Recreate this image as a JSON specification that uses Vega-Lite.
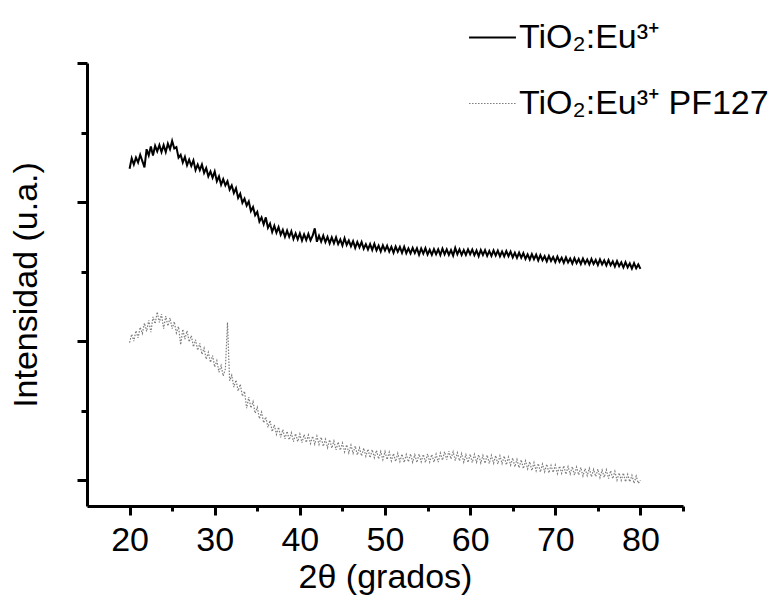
{
"$schema": "https://vega.github.io/schema/vega-lite/v6.json",
"width": 596, "height": 443,
"autosize": {"type": "none"},
"padding": {"left": 87, "top": 63, "right": 101, "bottom": 90},
"background": "white",
"config": {"view": {"stroke": null}, "font": "Liberation Sans"},
"data": {"values": [
{"t":20,"a":2.24,"b":0.99},{"t":20.25,"a":2.315,"b":1.05},{"t":20.5,"a":2.27,"b":1.0},{"t":20.75,"a":2.32,"b":1.075},
{"t":21,"a":2.285,"b":1.025},{"t":21.25,"a":2.34,"b":1.1},{"t":21.5,"a":2.295,"b":1.055},{"t":21.75,"a":2.25,"b":1.13},
{"t":22,"a":2.38,"b":1.07},{"t":22.25,"a":2.335,"b":1.15},{"t":22.5,"a":2.4,"b":1.065},{"t":22.75,"a":2.335,"b":1.175},
{"t":23,"a":2.405,"b":1.125},{"t":23.25,"a":2.365,"b":1.21},{"t":23.5,"a":2.41,"b":1.135},{"t":23.75,"a":2.36,"b":1.195},
{"t":24,"a":2.41,"b":1.09},{"t":24.25,"a":2.36,"b":1.18},{"t":24.5,"a":2.42,"b":1.11},{"t":24.75,"a":2.38,"b":1.168},
{"t":25,"a":2.44,"b":1.09},{"t":25.25,"a":2.385,"b":1.14},{"t":25.5,"a":2.395,"b":1.06},{"t":25.75,"a":2.32,"b":1.105},
{"t":26,"a":2.34,"b":0.975},{"t":26.25,"a":2.285,"b":1.085},{"t":26.5,"a":2.325,"b":1.015},{"t":26.75,"a":2.265,"b":1.075},
{"t":27,"a":2.305,"b":0.995},{"t":27.25,"a":2.26,"b":1.04},{"t":27.5,"a":2.3,"b":0.96},{"t":27.75,"a":2.23,"b":1.01},
{"t":28,"a":2.27,"b":0.935},{"t":28.25,"a":2.23,"b":0.985},{"t":28.5,"a":2.27,"b":0.905},{"t":28.75,"a":2.21,"b":0.95},
{"t":29,"a":2.245,"b":0.87},{"t":29.25,"a":2.185,"b":0.92},{"t":29.5,"a":2.22,"b":0.848},{"t":29.75,"a":2.175,"b":0.897},
{"t":30,"a":2.22,"b":0.815},{"t":30.25,"a":2.15,"b":0.86},{"t":30.5,"a":2.185,"b":0.777},{"t":30.75,"a":2.125,"b":0.825},
{"t":31,"a":2.165,"b":0.75},{"t":31.25,"a":2.12,"b":0.8},{"t":31.5,"a":2.15,"b":1.135},{"t":31.75,"a":2.09,"b":0.715},
{"t":32,"a":2.12,"b":0.755},{"t":32.25,"a":2.065,"b":0.67},{"t":32.5,"a":2.1,"b":0.72},{"t":32.75,"a":2.03,"b":0.642},
{"t":33,"a":2.06,"b":0.69},{"t":33.25,"a":1.995,"b":0.605},{"t":33.5,"a":2.025,"b":0.64},{"t":33.75,"a":1.975,"b":0.518},
{"t":34,"a":2.005,"b":0.598},{"t":34.25,"a":1.935,"b":0.52},{"t":34.5,"a":1.965,"b":0.565},{"t":34.75,"a":1.905,"b":0.482},
{"t":35,"a":1.93,"b":0.525},{"t":35.25,"a":1.86,"b":0.443},{"t":35.5,"a":1.89,"b":0.49},{"t":35.75,"a":1.84,"b":0.413},
{"t":36,"a":1.89,"b":0.455},{"t":36.25,"a":1.815,"b":0.38},{"t":36.5,"a":1.845,"b":0.43},{"t":36.75,"a":1.785,"b":0.35},
{"t":37,"a":1.83,"b":0.398},{"t":37.25,"a":1.78,"b":0.33},{"t":37.5,"a":1.82,"b":0.382},{"t":37.75,"a":1.765,"b":0.308},
{"t":38,"a":1.8,"b":0.365},{"t":38.25,"a":1.75,"b":0.298},{"t":38.5,"a":1.795,"b":0.352},{"t":38.75,"a":1.75,"b":0.291},
{"t":39,"a":1.79,"b":0.341},{"t":39.25,"a":1.735,"b":0.278},{"t":39.5,"a":1.775,"b":0.335},{"t":39.75,"a":1.732,"b":0.278},
{"t":40,"a":1.775,"b":0.332},{"t":40.25,"a":1.724,"b":0.27},{"t":40.5,"a":1.768,"b":0.329},{"t":40.75,"a":1.727,"b":0.272},
{"t":41,"a":1.771,"b":0.325},{"t":41.25,"a":1.725,"b":0.264},{"t":41.5,"a":1.758,"b":0.317},{"t":41.75,"a":1.811,"b":0.26},
{"t":42,"a":1.715,"b":0.318},{"t":42.25,"a":1.758,"b":0.258},{"t":42.5,"a":1.716,"b":0.309},{"t":42.75,"a":1.759,"b":0.244},
{"t":43,"a":1.712,"b":0.295},{"t":43.25,"a":1.75,"b":0.235},{"t":43.5,"a":1.703,"b":0.291},{"t":43.75,"a":1.746,"b":0.231},
{"t":44,"a":1.704,"b":0.282},{"t":44.25,"a":1.746,"b":0.218},{"t":44.5,"a":1.698,"b":0.275},{"t":44.75,"a":1.731,"b":0.216},
{"t":45,"a":1.688,"b":0.268},{"t":45.25,"a":1.74,"b":0.204},{"t":45.5,"a":1.692,"b":0.255},{"t":45.75,"a":1.724,"b":0.197},
{"t":46,"a":1.682,"b":0.253},{"t":46.25,"a":1.719,"b":0.194},{"t":46.5,"a":1.671,"b":0.246},{"t":46.75,"a":1.713,"b":0.182},
{"t":47,"a":1.675,"b":0.234},{"t":47.25,"a":1.713,"b":0.175},{"t":47.5,"a":1.665,"b":0.231},{"t":47.75,"a":1.697,"b":0.173},
{"t":48,"a":1.659,"b":0.224},{"t":48.25,"a":1.698,"b":0.162},{"t":48.5,"a":1.656,"b":0.22},{"t":48.75,"a":1.7,"b":0.162},
{"t":49,"a":1.653,"b":0.215},{"t":49.25,"a":1.687,"b":0.153},{"t":49.5,"a":1.645,"b":0.206},{"t":49.75,"a":1.689,"b":0.148},
{"t":50,"a":1.652,"b":0.206},{"t":50.25,"a":1.686,"b":0.149},{"t":50.5,"a":1.644,"b":0.202},{"t":50.75,"a":1.678,"b":0.139},
{"t":51,"a":1.636,"b":0.192},{"t":51.25,"a":1.68,"b":0.135},{"t":51.5,"a":1.643,"b":0.193},{"t":51.75,"a":1.677,"b":0.135},
{"t":52,"a":1.635,"b":0.188},{"t":52.25,"a":1.679,"b":0.128},{"t":52.5,"a":1.633,"b":0.185},{"t":52.75,"a":1.667,"b":0.133},
{"t":53,"a":1.631,"b":0.19},{"t":53.25,"a":1.67,"b":0.13},{"t":53.5,"a":1.634,"b":0.183},{"t":53.75,"a":1.668,"b":0.128},
{"t":54,"a":1.622,"b":0.188},{"t":54.25,"a":1.666,"b":0.133},{"t":54.5,"a":1.63,"b":0.186},{"t":54.75,"a":1.669,"b":0.128},
{"t":55,"a":1.623,"b":0.19},{"t":55.25,"a":1.657,"b":0.131},{"t":55.5,"a":1.621,"b":0.185},{"t":55.75,"a":1.661,"b":0.13},
{"t":56,"a":1.625,"b":0.188},{"t":56.25,"a":1.66,"b":0.13},{"t":56.5,"a":1.62,"b":0.195},{"t":56.75,"a":1.665,"b":0.145},
{"t":57,"a":1.625,"b":0.205},{"t":57.25,"a":1.66,"b":0.148},{"t":57.5,"a":1.62,"b":0.21},{"t":57.75,"a":1.655,"b":0.153},
{"t":58,"a":1.615,"b":0.205},{"t":58.25,"a":1.67,"b":0.142},{"t":58.5,"a":1.625,"b":0.198},{"t":58.75,"a":1.66,"b":0.14},
{"t":59,"a":1.62,"b":0.192},{"t":59.25,"a":1.655,"b":0.13},{"t":59.5,"a":1.62,"b":0.184},{"t":59.75,"a":1.66,"b":0.128},
{"t":60,"a":1.625,"b":0.188},{"t":60.25,"a":1.659,"b":0.127},{"t":60.5,"a":1.618,"b":0.186},{"t":60.75,"a":1.652,"b":0.13},
{"t":61,"a":1.611,"b":0.184},{"t":61.25,"a":1.656,"b":0.124},{"t":61.5,"a":1.62,"b":0.178},{"t":61.75,"a":1.654,"b":0.122},
{"t":62,"a":1.614,"b":0.181},{"t":62.25,"a":1.648,"b":0.12},{"t":62.5,"a":1.613,"b":0.179},{"t":62.75,"a":1.652,"b":0.123},
{"t":63,"a":1.616,"b":0.177},{"t":63.25,"a":1.651,"b":0.117},{"t":63.5,"a":1.61,"b":0.176},{"t":63.75,"a":1.645,"b":0.12},
{"t":64,"a":1.61,"b":0.174},{"t":64.25,"a":1.648,"b":0.111},{"t":64.5,"a":1.611,"b":0.167},{"t":64.75,"a":1.644,"b":0.109},
{"t":65,"a":1.602,"b":0.16},{"t":65.25,"a":1.636,"b":0.097},{"t":65.5,"a":1.599,"b":0.149},{"t":65.75,"a":1.637,"b":0.09},
{"t":66,"a":1.6,"b":0.147},{"t":66.25,"a":1.633,"b":0.084},{"t":66.5,"a":1.591,"b":0.14},{"t":66.75,"a":1.624,"b":0.082},
{"t":67,"a":1.587,"b":0.133},{"t":67.25,"a":1.626,"b":0.07},{"t":67.5,"a":1.589,"b":0.127},{"t":67.75,"a":1.622,"b":0.068},
{"t":68,"a":1.58,"b":0.12},{"t":68.25,"a":1.619,"b":0.059},{"t":68.5,"a":1.582,"b":0.117},{"t":68.75,"a":1.611,"b":0.061},
{"t":69,"a":1.574,"b":0.115},{"t":69.25,"a":1.613,"b":0.053},{"t":69.5,"a":1.577,"b":0.107},{"t":69.75,"a":1.605,"b":0.056},
{"t":70,"a":1.569,"b":0.109},{"t":70.25,"a":1.608,"b":0.048},{"t":70.5,"a":1.571,"b":0.102},{"t":70.75,"a":1.6,"b":0.05},
{"t":71,"a":1.563,"b":0.104},{"t":71.25,"a":1.602,"b":0.043},{"t":71.5,"a":1.566,"b":0.098},{"t":71.75,"a":1.594,"b":0.045},
{"t":72,"a":1.558,"b":0.098},{"t":72.25,"a":1.597,"b":0.037},{"t":72.5,"a":1.561,"b":0.095},{"t":72.75,"a":1.591,"b":0.039},
{"t":73,"a":1.555,"b":0.092},{"t":73.25,"a":1.594,"b":0.031},{"t":73.5,"a":1.558,"b":0.084},{"t":73.75,"a":1.587,"b":0.033},
{"t":74,"a":1.552,"b":0.086},{"t":74.25,"a":1.591,"b":0.025},{"t":74.5,"a":1.555,"b":0.078},{"t":74.75,"a":1.584,"b":0.027},
{"t":75,"a":1.548,"b":0.08},{"t":75.25,"a":1.588,"b":0.019},{"t":75.5,"a":1.552,"b":0.073},{"t":75.75,"a":1.581,"b":0.021},
{"t":76,"a":1.545,"b":0.075},{"t":76.25,"a":1.583,"b":0.012},{"t":76.5,"a":1.546,"b":0.069},{"t":76.75,"a":1.574,"b":0.012},
{"t":77,"a":1.537,"b":0.064},{"t":77.25,"a":1.576,"b":0.001},{"t":77.5,"a":1.539,"b":0.053},{"t":77.75,"a":1.567,"b":0.0},
{"t":78,"a":1.53,"b":0.052},{"t":78.25,"a":1.568,"b":-0.011},{"t":78.5,"a":1.531,"b":0.042},{"t":78.75,"a":1.559,"b":-0.011},
{"t":79,"a":1.522,"b":0.036},{"t":79.25,"a":1.561,"b":-0.022},{"t":79.5,"a":1.524,"b":0.03},{"t":79.75,"a":1.552,"b":-0.022},
{"t":80,"a":1.52,"b":0.0}
]},
"transform": [{"fold": ["a", "b"], "as": ["serie", "valor"]}],
"mark": {"type": "line"},
"encoding": {
  "x": {"field": "t", "type": "quantitative",
    "scale": {"domain": [15, 85], "nice": false, "zero": false},
    "axis": {"title": "2θ (grados)", "values": [20,25,30,35,40,45,50,55,60,65,70,75,80,85],
      "labelExpr": "datum.value % 10 === 0 ? datum.label : ''",
      "tickSize": {"condition": {"test": "datum.value % 10 === 0", "value": 9}, "value": 5},
      "tickWidth": 3, "tickColor": "black", "domainWidth": 3, "domainColor": "black",
      "labelFontSize": 34, "labelColor": "black", "labelFont": "Liberation Sans", "labelPadding": 8,
      "labelFlush": false, "labelOverlap": false, "grid": false,
      "titleFontSize": 34, "titleFontWeight": "normal", "titleColor": "black", "titleFont": "Liberation Sans", "titlePadding": 3}},
  "y": {"field": "valor", "type": "quantitative",
    "scale": {"domain": [-0.185, 3], "nice": false, "zero": false},
    "axis": {"title": "Intensidad (u.a.)", "values": [0,0.5,1,1.5,2,2.5,3], "labels": false,
      "tickSize": {"condition": {"test": "datum.value % 1 === 0", "value": 10}, "value": 6},
      "tickWidth": 3, "tickColor": "black", "domainWidth": 3, "domainColor": "black", "grid": false,
      "titleFontSize": 34, "titleFontWeight": "normal", "titleColor": "black", "titleFont": "Liberation Sans", "titlePadding": 32}},
  "strokeWidth": {"field": "serie", "type": "nominal",
    "scale": {"domain": ["a", "b"], "range": [2, 1.2]}, "legend": null},
  "color": {"field": "serie", "type": "nominal",
    "scale": {"domain": ["a", "b"], "range": ["#000000", "#7c7c7c"]},
    "legend": {"title": null, "orient": "none", "legendX": 381, "legendY": -50, "symbolType": "stroke", "symbolSize": 2200,
      "symbolStrokeWidth": 1.5, "labelFontSize": 34, "labelFont": "Liberation Sans", "labelColor": "black", "labelOffset": 2,
      "rowPadding": 24, "labelLimit": 400,
      "labelExpr": "datum.value == 'a' ? 'TiO₂:Eu³⁺' : 'TiO₂:Eu³⁺ PF127'"}},
  "strokeDash": {"field": "serie", "type": "nominal",
    "scale": {"domain": ["a", "b"], "range": [[1, 0], [1.5, 1.5]]},
    "legend": {"title": null, "orient": "none", "legendX": 381, "legendY": -50, "symbolType": "stroke", "symbolSize": 2200,
      "symbolStrokeWidth": 1.5, "labelFontSize": 34, "labelFont": "Liberation Sans", "labelColor": "black", "labelOffset": 2,
      "rowPadding": 24, "labelLimit": 400,
      "labelExpr": "datum.value == 'a' ? 'TiO₂:Eu³⁺' : 'TiO₂:Eu³⁺ PF127'"}}
}
}
